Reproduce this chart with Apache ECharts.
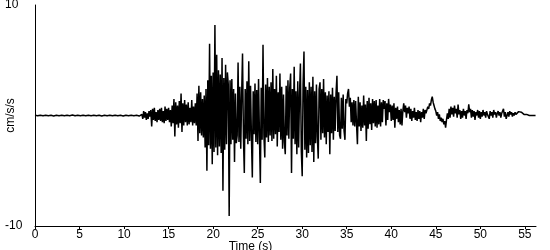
<!DOCTYPE html>
<html><head><meta charset="utf-8">
<script src="https://cdn.jsdelivr.net/npm/echarts@6/dist/echarts.min.js"></script>
<style>html,body{margin:0;padding:0;background:#fff}#c{width:550px;height:250px}</style>
</head><body><div id="c"></div>
<script>
// sample interval (s)
const dt = 0.1;
// acceleration record (cm/s/s), one value every dt seconds starting at t = 0
const accel = [
0.02,-0.03,0.03,-0.02,0.04,-0.03,0.02,-0.04,0.03,-0.02,
0.03,-0.02,0.02,-0.03,0.02,-0.02,0.03,-0.03,0.02,-0.02,
0.02,-0.04,0.03,-0.02,0.03,-0.03,0.04,-0.02,0.02,-0.03,
0.03,-0.02,0.02,-0.03,0.03,-0.02,0.02,-0.04,0.03,-0.02,
0.02,-0.03,0.04,-0.02,0.02,-0.03,0.03,-0.02,0.02,-0.03,
0.03,-0.02,0.02,-0.04,0.03,-0.02,0.03,-0.03,0.02,-0.02,
0.02,-0.03,0.03,-0.02,0.04,-0.03,0.02,-0.02,0.03,-0.03,
0.03,-0.02,0.02,-0.03,0.02,-0.04,0.03,-0.02,0.02,-0.03,
0.02,-0.03,0.03,-0.02,0.03,-0.02,0.04,-0.03,0.02,-0.02,
0.03,-0.02,0.02,-0.03,0.03,-0.03,0.02,-0.02,0.03,-0.04,
0.02,-0.03,0.03,-0.02,0.02,-0.03,0.04,-0.02,0.03,-0.03,
0.03,-0.02,0.04,-0.03,0.02,-0.04,0.03,-0.05,0.04,-0.06,
0.1,-0.3,0.4,-0.2,0.3,-0.4,0.2,-0.3,0.4,-0.1,
0.5,-1.0,0.6,-0.4,0.7,-0.5,0.3,-0.6,0.5,-0.4,
0.6,-0.5,0.7,-0.6,0.4,-0.7,0.8,-0.5,0.6,-0.4,
0.7,-0.6,0.5,-1.0,0.9,-0.7,1.5,-1.9,1.2,-0.8,
0.9,-1.1,1.3,-0.7,2.0,-1.5,1.1,-0.9,1.4,-0.6,
1.0,-0.9,1.2,-0.8,0.7,-0.6,1.4,-0.9,0.8,-0.7,
1.1,-0.9,2.0,-2.3,2.7,-1.6,2.1,-1.8,1.5,-2.0,
1.8,-2.9,2.4,-5.0,3.2,-2.7,6.5,-3.0,3.6,-4.4,
3.9,-3.3,8.2,-2.9,5.5,-3.6,4.1,-2.8,3.7,-3.4,
5.2,-6.8,3.4,-3.1,4.6,-2.6,3.9,2.8,-9.1,3.2,
-2.6,3.3,-2.2,2.4,-4.2,2.0,-2.5,-1.8,4.8,-2.4,
2.6,-3.0,1.8,5.6,-1.9,-5.2,2.4,-2.1,3.1,-2.6,
4.9,-2.3,2.7,-2.0,-5.6,2.2,-1.7,2.9,-2.4,2.3,
-2.6,3.3,-1.9,-6.1,2.5,-2.2,6.4,-1.8,-3.8,2.8,
-2.0,3.4,-2.4,2.6,-1.8,3.0,-2.3,4.2,-2.1,2.4,
-1.7,3.6,-2.8,2.1,-1.5,3.8,-2.2,2.6,-3.0,1.9,
-2.4,-3.5,2.7,-1.8,3.2,-2.1,2.5,3.8,-5.2,2.4,
-2.1,4.4,-2.6,2.2,-3.5,3.1,-2.9,2.0,4.7,-3.2,
-5.5,2.9,5.8,-3.1,2.6,-3.8,2.3,-3.4,3.0,-2.7,
2.6,-3.3,3.5,-4.2,2.2,-2.5,2.8,-1.9,-3.9,2.4,
3.0,-2.2,2.4,-1.6,3.3,-2.0,2.1,-2.6,1.8,-1.5,
2.2,-3.5,1.9,-1.6,2.5,-2.2,1.7,-1.4,2.0,3.6,
-1.5,2.1,-1.8,-2.1,1.6,-1.2,1.9,-1.4,-2.2,1.5,
1.1,2.0,2.4,0.8,1.6,-0.6,1.2,-0.9,1.4,-1.0,
1.3,-0.8,-2.6,1.7,-1.0,1.2,-1.4,0.9,-1.1,1.8,
-0.9,1.0,-2.3,1.3,-1.2,1.6,-0.8,1.1,-1.3,1.5,
-0.7,1.3,-1.0,1.4,-1.1,0.9,-0.8,1.5,-1.0,1.2,
-0.6,1.4,0.6,1.3,-0.9,1.1,-0.4,1.5,0.3,1.0,
-0.5,0.9,-0.4,1.1,-1.1,0.7,-0.3,0.8,-0.6,0.5,
-0.8,0.6,-0.9,0.4,1.1,0.3,0.9,-0.2,0.7,0.2,
0.8,-0.3,0.6,-0.5,0.4,-0.2,0.7,-0.4,0.3,-0.5,
0.5,-0.3,0.4,-0.6,0.3,-0.2,0.6,-0.3,0.5,0.2,
0.3,0.8,0.6,1.1,0.9,1.4,1.7,1.2,0.9,0.6,
0.4,0.0,0.3,-0.3,0.1,-0.5,-0.2,-0.6,-0.3,-0.8,
-0.5,-1.1,-0.4,0.2,-0.3,0.6,-0.2,0.8,0.1,0.7,
-0.1,0.9,0.2,0.6,-0.2,1.0,0.1,0.5,-0.3,0.4,
-0.2,0.6,0.0,0.4,-0.3,0.5,0.2,1.0,0.3,0.6,
-0.2,0.5,-0.1,0.4,-0.4,0.3,0.0,0.5,-0.2,0.4,
-0.3,0.3,-0.1,0.5,0.0,0.3,-0.2,0.4,0.1,0.2,
-0.3,0.4,0.0,0.3,-0.2,0.5,0.1,0.3,-0.2,0.2,
0.4,0.0,0.3,-0.2,0.2,0.3,0.6,-0.1,0.3,-0.3,
0.0,0.3,-0.1,0.4,0.1,0.3,-0.1,0.2,0.0,0.3,
0.1,0.2,0.0,0.35,0.35,0.35,0.3,0.3,0.3,0.1,
0.1,0.1,0.1,0.1,0.05,0.0,0.0,0.05,0.0,0.0,
0.0,0.0,0.0
];
const xTicks = [0,5,10,15,20,25,30,35,40,45,50,55];
const yTicks = [-10,10];
const xMax = 56.25;

const data = accel.map((v, i) => [Math.round(i * dt * 100) / 100, v]);
const font = 'Liberation Sans, Arial, sans-serif';

const chart = echarts.init(document.getElementById('c'), null, {renderer: 'canvas'});
chart.setOption({
  animation: false,
  backgroundColor: '#fff',
  grid: {left: 35, top: 5, right: 14, bottom: 24, containLabel: false, outerBoundsMode: 'none'},
  xAxis: {
    type: 'value', min: 0, max: xMax, interval: 5,
    name: 'Time (s)', nameLocation: 'middle', nameGap: 15, nameMoveOverlap: false,
    nameTextStyle: {color: '#000', fontSize: 12, fontFamily: font, padding: [0, 70, 0, 0]},
    axisLine: {onZero: false, lineStyle: {color: '#000', width: 1}},
    axisTick: {show: true, length: 3, customValues: xTicks, lineStyle: {color: '#000'}},
    axisLabel: {customValues: xTicks, color: '#000', fontSize: 12, fontFamily: font, margin: 3},
    splitLine: {show: false}
  },
  yAxis: {
    type: 'value', min: -10, max: 10, interval: 10,
    name: 'cm/s/s', nameLocation: 'middle', nameGap: 18, nameRotate: 90, nameMoveOverlap: false,
    nameTextStyle: {color: '#000', fontSize: 12, fontFamily: font},
    axisLine: {show: true, lineStyle: {color: '#000', width: 1}},
    axisTick: {show: false},
    axisLabel: {customValues: yTicks, color: '#000', fontSize: 12, fontFamily: font, align: 'left', margin: 30},
    splitLine: {show: false}
  },
  series: [{
    type: 'line', data: data, showSymbol: false, symbol: 'none', sampling: null,
    lineStyle: {color: '#000', width: 1.5}
  }]
});
</script></body></html>
